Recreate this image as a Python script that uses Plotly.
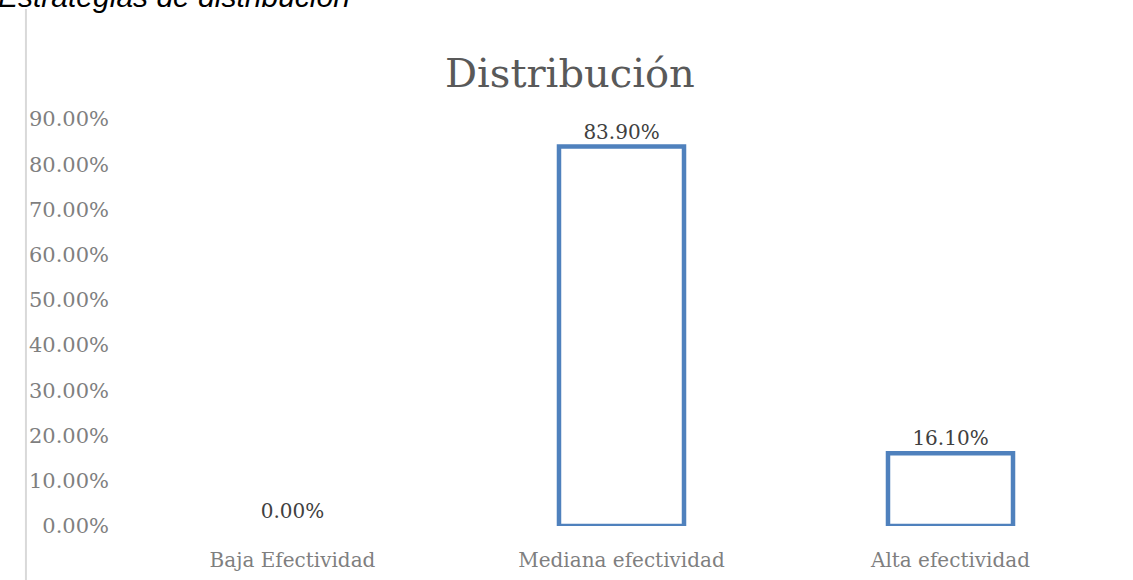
import plotly.graph_objects as go

categories = ["Baja Efectividad", "Mediana efectividad", "Alta efectividad"]
values = [0.0, 83.9, 16.1]
labels = ["0.00%", "83.90%", "16.10%"]
tick_vals = [0, 10, 20, 30, 40, 50, 60, 70, 80, 90]
tick_text = ["0.00%", "10.00%", "20.00%", "30.00%", "40.00%", "50.00%", "60.00%", "70.00%", "80.00%", "90.00%"]

SERIF = "DejaVu Serif"

fig = go.Figure(go.Bar(
    x=categories, y=values, text=labels, textposition="outside",
    textfont=dict(family=SERIF, size=20, color="#404040"),
    marker=dict(color="white", line=dict(color="#4F81BD", width=[0 if v == 0 else 4.5 for v in values])),
    width=0.38, cliponaxis=False,
))

fig.update_layout(
    width=1133, height=580,
    margin=dict(l=128, r=18, t=119, b=54),
    paper_bgcolor="white", plot_bgcolor="white",
    showlegend=False,
    title=dict(text="Distribución", x=0.503, xanchor="center", y=0.874, yanchor="middle",
               font=dict(family=SERIF, size=40, color="#595959")),
    xaxis=dict(showgrid=False, showline=False, ticks="", zeroline=False, ticklabelstandoff=20,
               automargin=False, tickfont=dict(family=SERIF, size=20, color="#7f7f7f")),
    yaxis=dict(range=[0, 90], tickvals=tick_vals, ticktext=tick_text, showgrid=False,
               zeroline=False, showline=False, ticks="", ticklabelstandoff=18, automargin=False,
               tickfont=dict(family=SERIF, size=21, color="#7f7f7f")),
)

fig.add_shape(type="line", xref="paper", yref="paper", x0=-0.1034, x1=-0.1034,
              y0=-0.2, y1=1.27, line=dict(color="#d9d9d9", width=2))
fig.add_annotation(text="<i>Estrategias de distribución</i>", xref="paper", yref="paper",
                   x=-0.1335, y=1.3, xanchor="left", yanchor="middle", showarrow=False,
                   font=dict(family="Liberation Sans", size=30, color="#000000"))

fig.write_html("out.html")
